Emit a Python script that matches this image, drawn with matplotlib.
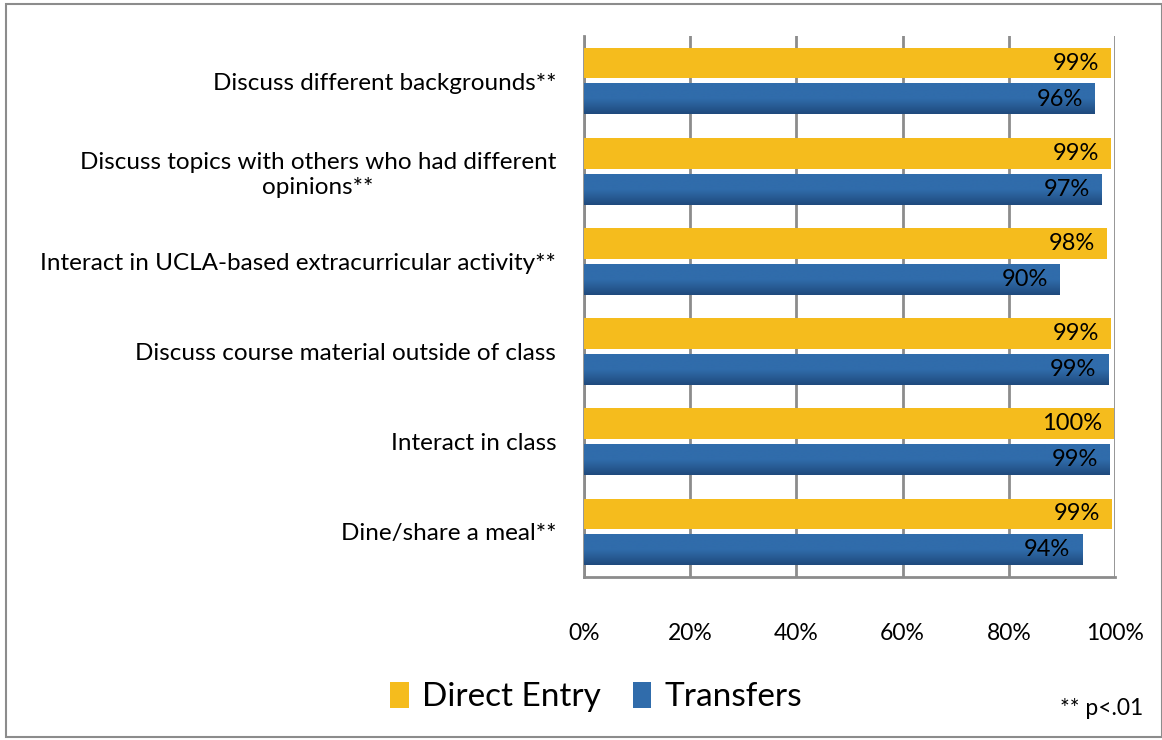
import numpy as np
import matplotlib
matplotlib.use("Agg")
import matplotlib.pyplot as plt
from matplotlib.patches import Rectangle, Patch
from matplotlib.colors import LinearSegmentedColormap

plt.rcParams['font.family'] = ['Lato', 'DejaVu Sans']

# Data (top to bottom)
categories = [
    "Discuss different backgrounds**",
    "Discuss topics with others who had different\nopinions**",
    "Interact in UCLA-based extracurricular activity**",
    "Discuss course material outside of class",
    "Interact in class",
    "Dine/share a meal**",
]
direct_entry = [99.2, 99.2, 98.5, 99.2, 99.8, 99.4]
transfers = [96.2, 97.4, 89.6, 98.7, 99.0, 93.8]
direct_labels = ["99%", "99%", "98%", "99%", "100%", "99%"]
transfer_labels = ["96%", "97%", "90%", "99%", "99%", "94%"]
xticks = [0, 20, 40, 60, 80, 100]

yellow = "#F5BC1D"
blue_top = "#306CAB"
blue_bot = "#1F4A7D"
grid_col = "#8C8C8C"

fig = plt.figure(figsize=(11.62, 7.40), dpi=100)
ax = fig.add_axes([0.5026, 0.2203, 0.4570, 0.7311])

n = len(categories)
y = np.arange(n)
h = 0.34
off = 0.2

ax.barh(y - off, direct_entry, height=h, color=yellow, zorder=3)
tb = ax.barh(y + off, transfers, height=h, color=blue_bot, zorder=3)

# vertical gradient on the blue bars
cmap = LinearSegmentedColormap.from_list("bl", [blue_top, blue_top, blue_bot])
grad = np.linspace(0, 1, 64).reshape(-1, 1)
for rect in tb:
    x0, y0 = rect.get_x(), rect.get_y()
    w, hh = rect.get_width(), rect.get_height()
    ax.imshow(grad, cmap=cmap, aspect='auto', extent=[x0, x0 + w, y0 + hh, y0],
              origin='upper', zorder=3.5, interpolation='bilinear')

for i in range(n):
    ax.text(direct_entry[i] - 2.2, y[i] - off, direct_labels[i], ha='right', va='center',
            fontsize=17, color='black', zorder=5)
    ax.text(transfers[i] - 2.2, y[i] + off, transfer_labels[i], ha='right', va='center',
            fontsize=17, color='black', zorder=5)

ax.set_xlim(0, 100)
ax.set_ylim(n - 0.5, -0.5)
ax.set_xticks(xticks)
ax.set_xticklabels([f"{t}%" for t in xticks], fontsize=16.5)
ax.set_yticks(y)
ax.set_yticklabels(categories, fontsize=17.5, multialignment='center')
ax.tick_params(axis='x', length=0, pad=33)
ax.tick_params(axis='y', length=0, pad=20)

ax.grid(axis='x', color=grid_col, linewidth=2, zorder=0)
ax.set_axisbelow(True)
for s in ['top', 'right']:
    ax.spines[s].set_visible(False)
for s in ['left', 'bottom']:
    ax.spines[s].set_color(grid_col)
    ax.spines[s].set_linewidth(2)

handles = [Patch(facecolor=yellow, label="Direct Entry"),
           Patch(facecolor=blue_top, label="Transfers")]
fig.legend(handles=handles, loc='center', bbox_to_anchor=(0.513, 0.058), ncol=2,
           frameon=False, fontsize=24, handlelength=0.55, handleheight=0.85,
           handletextpad=0.4, columnspacing=0.95)

fig.text(0.984, 0.043, "** p<.01", ha='right', va='center', fontsize=16.5)

fig.patches.append(Rectangle((0.005, 0.004), 0.995, 0.99, transform=fig.transFigure,
                             fill=False, edgecolor="#8C8C8C", linewidth=1.5))

fig.savefig("out.png", dpi=100)
